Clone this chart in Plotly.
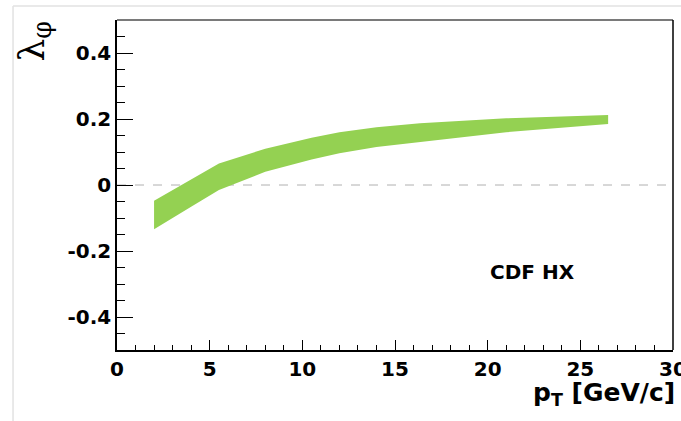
import plotly.graph_objects as go

# Data
pt = [2, 3, 4, 5.5, 8, 10.5, 12, 14, 16.35, 21, 26.5]
lam_upper = [-0.048, -0.016, 0.017, 0.065, 0.110, 0.143, 0.160, 0.175, 0.187, 0.202, 0.212]
lam_lower = [-0.134, -0.100, -0.066, -0.015, 0.040, 0.077, 0.096, 0.115, 0.131, 0.160, 0.185]

x_tickvals = [0, 5, 10, 15, 20, 25, 30]
x_ticktext = ["0", "5", "10", "15", "20", "25", "30"]
y_tickvals = [-0.4, -0.2, 0, 0.2, 0.4]
y_ticktext = ["-0.4", "-0.2", "0", "0.2", "0.4"]

band_color = "#94D152"
tick_font = dict(family="DejaVu Sans", size=20, color="black", weight="bold")

fig = go.Figure()

# zero reference line
fig.add_trace(go.Scatter(x=[0, 30], y=[0, 0], mode="lines",
                         line=dict(color="#b0b0b0", width=1, dash="dash"),
                         hoverinfo="skip", showlegend=False))

# band
fig.add_trace(go.Scatter(x=pt + pt[::-1], y=lam_upper + lam_lower[::-1],
                         fill="toself", fillcolor=band_color, mode="lines",
                         line=dict(width=0, color=band_color), showlegend=False))

fig.update_layout(
    width=681, height=421,
    margin=dict(l=117, r=8, t=20, b=71, autoexpand=False),
    paper_bgcolor="white", plot_bgcolor="white",
    showlegend=False,
    xaxis=dict(range=[0, 30], tickvals=x_tickvals, ticktext=x_ticktext,
               ticks="inside", ticklen=10, tickwidth=1, tickcolor="black",
               minor=dict(dtick=1, tick0=0, ticks="inside", ticklen=5, tickcolor="black"),
               showline=True, linecolor="black", linewidth=1.5,
               ticklabeloverflow="allow", automargin=False,
               showgrid=False, zeroline=False, tickfont=tick_font),
    yaxis=dict(range=[-0.5, 0.5], tickvals=y_tickvals, ticktext=y_ticktext,
               ticks="inside", ticklen=16, tickwidth=1, tickcolor="black",
               minor=dict(dtick=0.05, tick0=0, ticks="inside", ticklen=8, tickcolor="black"),
               showline=True, linecolor="black", linewidth=1.5, automargin=False,
               showgrid=False, zeroline=False, tickfont=tick_font),
    shapes=[
        # top frame (gray) and right frame (black)
        dict(type="line", xref="paper", yref="paper", x0=0, x1=1, y0=1, y1=1,
             line=dict(color="#7a7a7a", width=2)),
        dict(type="line", xref="paper", yref="paper", x0=1, x1=1, y0=0, y1=1,
             line=dict(color="black", width=1.5)),
        # outer light gray canvas border
        dict(type="line", xref="paper", yref="paper", x0=-0.187, x1=-0.187, y0=-0.3, y1=1.0424,
             line=dict(color="#e2e2e2", width=1.5)),
        dict(type="line", xref="paper", yref="paper", x0=-0.187, x1=1.1, y0=1.0424, y1=1.0424,
             line=dict(color="#e2e2e2", width=1.5)),
    ],
    annotations=[
        dict(text="CDF HX", xref="x", yref="y", x=22.4, y=-0.265, showarrow=False,
             font=dict(family="DejaVu Sans", size=20, color="black", weight="bold")),
        dict(text="p<sub>T</sub> [GeV/c]", xref="paper", yref="paper", x=1.007, y=-0.08,
             xanchor="right", yanchor="top", showarrow=False,
             font=dict(family="DejaVu Sans", size=25, color="black", weight="bold")),
        dict(text="λ<sub>φ</sub>", xref="paper", yref="paper", x=-0.15, y=1.0,
             xanchor="center", yanchor="top", textangle=-90, showarrow=False,
             font=dict(family="DejaVu Serif", size=36, color="black")),
    ],
)

fig.write_html("out.html", config={"displayModeBar": False},
               post_script="document.body.style.margin='0';document.body.style.overflow='hidden';")
